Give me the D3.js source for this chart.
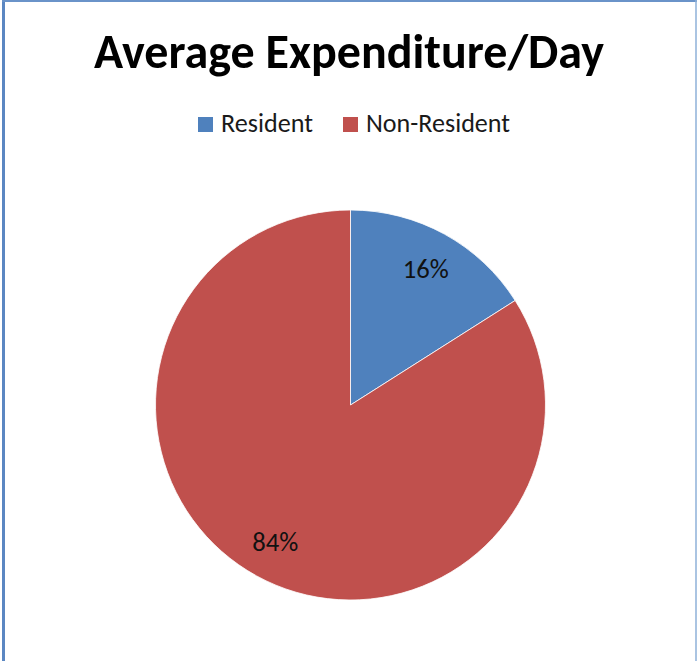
<!DOCTYPE html>
<html>
<head>
<meta charset="utf-8">
<script src="https://cdn.jsdelivr.net/npm/d3@7"></script>
<style>
  html, body { margin: 0; padding: 0; background: #ffffff; }
  svg { display: block; }
  text { font-family: Carlito, Lato, "Open Sans", sans-serif; }
</style>
</head>
<body>
<svg id="chart" width="697" height="661"></svg>
<script>
// Share of average expenditure per day
const categories = ["Resident", "Non-Resident"];
const shares = [16, 84];
const sliceColors = ["#4F81BD", "#C0504D"];
const chartTitle = "Average Expenditure/Day";

const svg = d3.select("#chart");
const W = 697, H = 661;

// frame
svg.append("line").attr("x1", 3.5).attr("x2", 3.5).attr("y1", 0).attr("y2", H)
  .attr("stroke", "#5B87C2").attr("stroke-width", 3);
svg.append("line").attr("x1", 2).attr("x2", W).attr("y1", 1).attr("y2", 1)
  .attr("stroke", "#6A93C9").attr("stroke-width", 2);
svg.append("line").attr("x1", 696).attr("x2", 696).attr("y1", 0).attr("y2", H)
  .attr("stroke", "#8EB0D8").attr("stroke-width", 1.5);

// scale a text node's font size so that it spans the requested width
function fitWidth(sel, width) {
  const node = sel.node();
  const size = parseFloat(sel.attr("font-size"));
  const len = node.getComputedTextLength();
  sel.attr("font-size", (size * width / len).toFixed(2));
  return sel;
}

// title
const title = svg.append("text")
  .attr("x", 349).attr("y", 68)
  .attr("text-anchor", "middle")
  .attr("font-size", 44).attr("font-weight", "bold")
  .attr("fill", "#000")
  .text(chartTitle);
fitWidth(title, 510);

// legend
const legendItems = [
  { x: 198, textX: 221, width: 92 },
  { x: 343, textX: 366, width: 144 }
];
const color = d3.scaleOrdinal().domain(categories).range(sliceColors);
const legend = svg.append("g");
categories.forEach((c, i) => {
  const it = legendItems[i];
  legend.append("rect")
    .attr("x", it.x).attr("y", 117).attr("width", 15).attr("height", 15)
    .attr("fill", color(c));
  const t = legend.append("text")
    .attr("x", it.textX).attr("y", 132)
    .attr("font-size", 22).attr("fill", "#1a1a1a")
    .text(c);
  fitWidth(t, it.width);
});

// pie
const cx = 350.5, cy = 405, R = 195;
const pie = d3.pie().sort(null).value(d => d.value);
const arcs = pie(categories.map((c, i) => ({ name: c, value: shares[i] })));
const arc = d3.arc().innerRadius(0).outerRadius(R);
const labelArc = d3.arc().innerRadius(R * 0.8).outerRadius(R * 0.8);

const g = svg.append("g").attr("transform", `translate(${cx},${cy})`);
g.selectAll("path.slice")
  .data(arcs)
  .join("path")
  .attr("class", "slice")
  .attr("d", arc)
  .attr("fill", d => color(d.data.name))
  .attr("stroke", "#ffffff")
  .attr("stroke-width", 0.8);

const fmt = d3.format(".0%");
const total = d3.sum(shares);
g.selectAll("text.value")
  .data(arcs)
  .join("text")
  .attr("class", "value")
  .attr("transform", d => {
    const [x, y] = labelArc.centroid(d);
    return `translate(${x},${y})`;
  })
  .attr("text-anchor", "middle")
  .attr("dy", "0.35em")
  .attr("font-size", 24)
  .attr("fill", "#111")
  .text(d => fmt(d.data.value / total))
  .each(function () { fitWidth(d3.select(this), 46); });
</script>
</body>
</html>
